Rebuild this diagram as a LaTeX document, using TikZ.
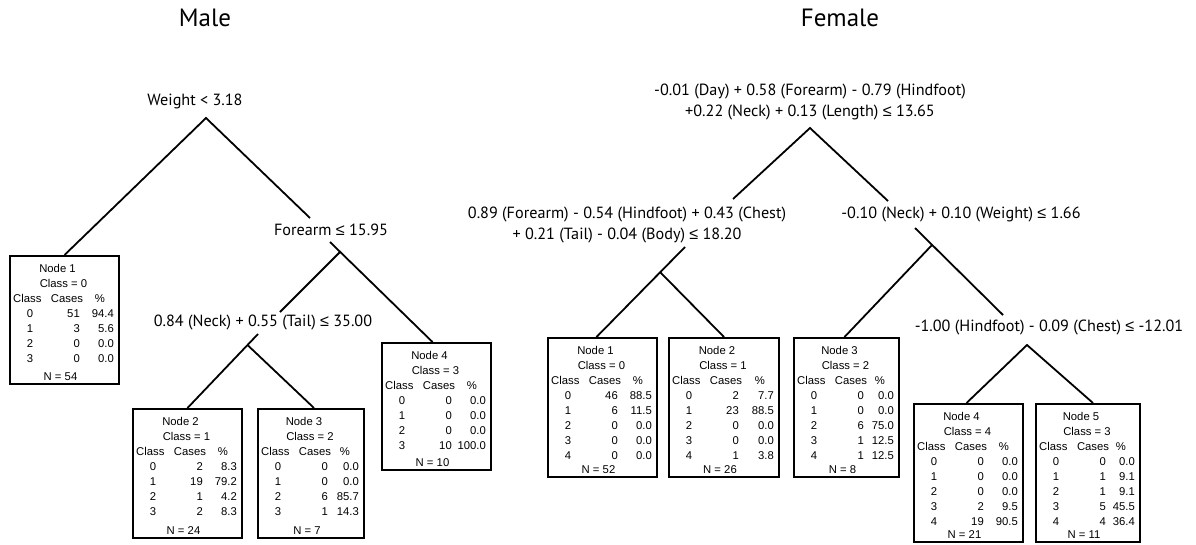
\documentclass[tikz,border=0pt]{standalone}
\usepackage{fontspec}
\setmainfont{Liberation Sans}
\newfontfamily\condfont{PT Sans}
\newfontfamily\lesymfont{Liberation Sans}
\newcommand{\lesym}{{\lesymfont ≤}}
\usetikzlibrary{calc}
\tikzset{
  cond/.style={font=\condfont\fontsize{16.2}{20.5}\selectfont, inner sep=0pt, align=center},
  ttl/.style={font=\condfont\fontsize{25}{28}\selectfont, inner sep=0pt},
  leaf/.style={draw, line width=2pt, inner sep=0pt},
  lt/.style={font=\fontsize{11.3}{13}\selectfont, inner sep=0pt},
  edge/.style={line width=1.8pt, line join=miter},
}
\newcommand{\leafbox}[9]{%
  \node[leaf, minimum width=#4pt, minimum height=#5pt, anchor=north west] (#1) at (#2,#3) {};
  \node[lt, anchor=base] (#1-t) at ($(#1.north west)+(#4/2-6,17)$) {Node #6};
  \node[lt, anchor=base] (#1-k) at ($(#1.north west)+(#4/2,32)$) {Class = #7};
  \node[lt, anchor=base west] (#1-h1) at ($(#1.north west)+(4,47)$) {Class};
  \node[lt, anchor=base] (#1-h2) at ($(#1.north west)+(58,47)$) {Cases};
  \node[lt, anchor=base] (#1-h3) at ($(#1.north west)+(#4-18,47)$) {\%};
  \foreach \c/\n/\p [count=\i from 0] in {#8} {
    \node[lt, anchor=base] (#1-c\i) at ($(#1.north west)+(21,62+15*\i)$) {\c};
    \node[lt, anchor=base east] (#1-n\i) at ($(#1.north west)+(71,62+15*\i)$) {\n};
    \node[lt, anchor=base east] (#1-p\i) at ($(#1.north west)+(#4-4,62+15*\i)$) {\p};
  }
  \node[lt, anchor=base] (#1-N) at ($(#1.south west)+(#4/2-3,-5)$) {N = #9};
}
\begin{document}
\begin{tikzpicture}[x=1pt, y=-1pt]
\useasboundingbox (0,0) rectangle (1196,544);
\fill[white] (0,0) rectangle (1196,544);

% ---------- Male ----------
\node[ttl] (mtitle) at (205,18) {Male};
\node[cond] (mroot) at (195,101) {Weight < 3.18};
\node[cond] (mfore) at (331,230) {Forearm \lesym{} 15.95};
\node[cond] (mneck) at (263,323) {0.84 (Neck) + 0.55 (Tail) \lesym{} 35.00};

\leafbox{mn1}{9}{255}{109}{128}{1}{0}{0/51/94.4, 1/3/5.6, 2/0/0.0, 3/0/0.0}{54}
\leafbox{mn2}{132}{408}{109}{129}{2}{1}{0/2/8.3, 1/19/79.2, 2/1/4.2, 3/2/8.3}{24}
\leafbox{mn3}{257}{408}{106}{129}{3}{2}{0/0/0.0, 1/0/0.0, 2/6/85.7, 3/1/14.3}{7}
\leafbox{mn4}{381}{342}{109}{127}{4}{3}{0/0/0.0, 1/0/0.0, 2/0/0.0, 3/10/100.0}{10}

\coordinate (ma) at (206,118);
\coordinate (mf-in) at (310,218);
\coordinate (mfa) at (330,242);
\coordinate (mfb) at (340,252);
\coordinate (mc-in) at (280,312);
\coordinate (mcs) at (258,334);
\coordinate (mcb) at (247.5,345);

\draw[edge] (mn1.north) -- (ma) -- (mf-in);
\draw[edge] (mfa) -- ([xshift=-4pt]mn4.north);
\draw[edge] (mfb) -- (mc-in);
\draw[edge] (mcs) -- (mn2.north);
\draw[edge] (mcb) -- ([xshift=3pt]mn3.north);

% ---------- Female ----------
\node[ttl] (ftitle) at (840,18) {Female};
\node[cond] (froot) at (810,102) {-0.01 (Day) + 0.58 (Forearm) - 0.79 (Hindfoot)\\+0.22 (Neck) + 0.13 (Length) \lesym{} 13.65};
\node[cond] (fleft) at (627,225) {0.89 (Forearm) - 0.54 (Hindfoot) + 0.43 (Chest)\\+ 0.21 (Tail) - 0.04 (Body) \lesym{} 18.20};
\node[cond] (fright) at (961,215) {-0.10 (Neck) + 0.10 (Weight) \lesym{} 1.66};
\node[cond] (fhind) at (1049,328) {-1.00 (Hindfoot) - 0.09 (Chest) \lesym{} -12.01};

\leafbox{fn1}{547}{337}{109}{139}{1}{0}{0/46/88.5, 1/6/11.5, 2/0/0.0, 3/0/0.0, 4/0/0.0}{52}
\leafbox{fn2}{668}{337}{110}{139}{2}{1}{0/2/7.7, 1/23/88.5, 2/0/0.0, 3/0/0.0, 4/1/3.8}{26}
\leafbox{fn3}{793}{337}{105}{139}{3}{2}{0/0/0.0, 1/0/0.0, 2/6/75.0, 3/1/12.5, 4/1/12.5}{8}
\leafbox{fn4}{913}{403}{109}{138}{4}{4}{0/0/0.0, 1/0/0.0, 2/0/0.0, 3/2/9.5, 4/19/90.5}{21}
\leafbox{fn5}{1035}{403}{104}{138}{5}{3}{0/0/0.0, 1/1/9.1, 2/1/9.1, 3/5/45.5, 4/4/36.4}{11}

\coordinate (fa) at (810,128);
\coordinate (fl-in) at (733,199);
\coordinate (fr-in) at (888,201);
\coordinate (fls) at (685,247);
\coordinate (flb) at (660,272);
\coordinate (frs) at (915,228);
\coordinate (frb) at (932,245);
\coordinate (fh-in) at (1003,315);
\coordinate (fha) at (1027,345);

\draw[edge] (fl-in) -- (fa) -- (fr-in);
\draw[edge] (fls) -- ([xshift=-6pt]fn1.north);
\draw[edge] (flb) -- (fn2.north);
\draw[edge] (frs) -- (fh-in);
\draw[edge] (frb) -- ([xshift=-2pt]fn3.north);
\draw[edge] ([xshift=-2pt]fn4.north) -- (fha) -- ([xshift=5pt]fn5.north);
\end{tikzpicture}
\end{document}
